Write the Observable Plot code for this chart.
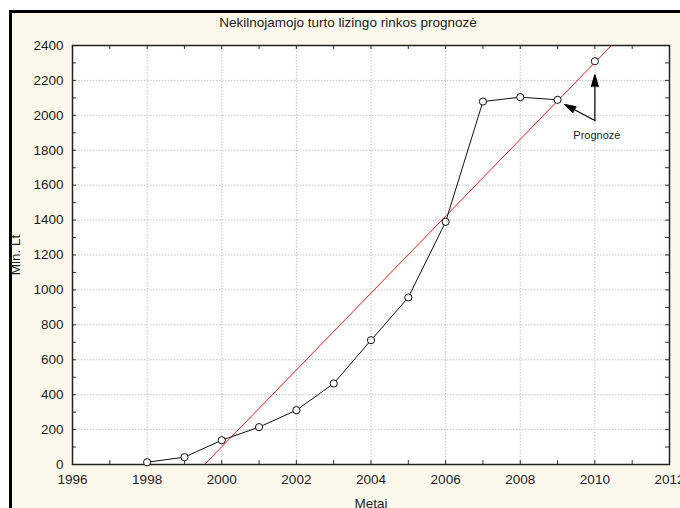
<!DOCTYPE html>
<html>
<head>
<meta charset="utf-8">
<script src="https://cdn.jsdelivr.net/npm/d3@7"></script>
<script src="https://cdn.jsdelivr.net/npm/@observablehq/plot@0.6"></script>
<style>
  html, body { margin: 0; padding: 0; background: #ffffff; }
  #wrap { position: relative; width: 680px; height: 508px; overflow: hidden; }
  #panel {
    position: absolute; left: 9px; top: 10px; right: -4px; bottom: -4px;
    background: #fdf8ec; border-left: 3px solid #000; border-top: 3px solid #000;
  }
  #chart { position: absolute; left: 0; top: 0; }
</style>
</head>
<body>
<div id="wrap"><div id="panel"></div><div id="chart"></div></div>
<script>
// Observed leasing market volume, million litas
const years = [1998, 1999, 2000, 2001, 2002, 2003, 2004, 2005, 2006, 2007, 2008, 2009];
const values = [13, 42, 139, 214, 311, 464, 712, 957, 1390, 2079, 2104, 2089];

// Forecast point
const forecastYears = [2010];
const forecastValues = [2310];

// Linear trend line end points
const trendYears = [1999.54, 2010.44];
const trendValues = [0, 2400];

// Axis ticks
const xTicks = [1996, 1998, 2000, 2002, 2004, 2006, 2008, 2010, 2012];
const xMinorTicks = d3.range(1997, 2012, 1);
const yTicks = [0, 200, 400, 600, 800, 1000, 1200, 1400, 1600, 1800, 2000, 2200, 2400];
const yMinorTicks = d3.range(100, 2400, 100);

// Annotation arrows: start (label) -> end (pointing at forecast / last point)
const arrowFrom = [[2010, 1970], [2010, 1970]];
const arrowTo = [[2010, 2232], [2009.19, 2062]];
const noteLabel = "Prognozė";
const noteAt = [2010, 1884];

const title = "Nekilnojamojo turto lizingo rinkos prognozė";
const xLabel = "Metai";
const yLabel = "Mln. Lt";

const W = 680, H = 508;
const mL = 72, mR = 11, mT = 45, mB = 44;
const innerH = H - mT - mB;
const tickLen = 4;
const fs = 13.5;

const observed = years.map((y, i) => ({year: y, value: values[i]}));
const forecast = forecastYears.map((y, i) => ({year: y, value: forecastValues[i]}));
const trend = trendYears.map((y, i) => ({year: y, value: trendValues[i]}));
const arrows = arrowFrom.map((a, i) => ({x1: a[0], y1: a[1], x2: arrowTo[i][0], y2: arrowTo[i][1]}));

const textColor = "#1c1c24";
const gridStyle = {stroke: "#c4c4c4", strokeOpacity: 1, strokeDasharray: "1.5,1.5", strokeWidth: 1};

const chart = Plot.plot({
  width: W,
  height: H,
  marginLeft: mL,
  marginRight: mR,
  marginTop: mT,
  marginBottom: mB,
  style: {fontFamily: "'Liberation Sans', Arial, sans-serif", fontSize: fs + "px", background: "transparent", color: textColor},
  x: {domain: [1996, 2012], axis: null},
  y: {domain: [0, 2400], axis: null},
  marks: [
    Plot.frame({fill: "white", stroke: null}),
    Plot.gridX(xTicks.slice(1, -1), gridStyle),
    Plot.gridY(yTicks.slice(1, -1), gridStyle),
    // inward ticks on all four sides
    Plot.ruleX(xMinorTicks, {x: d => d, insetTop: innerH - tickLen, stroke: "#333"}),
    Plot.ruleX(xMinorTicks, {x: d => d, insetBottom: innerH - tickLen, stroke: "#333"}),
    Plot.ruleY(yMinorTicks, {y: d => d, insetRight: W - mL - mR - tickLen, stroke: "#333"}),
    Plot.ruleY(yMinorTicks, {y: d => d, insetLeft: W - mL - mR - tickLen, stroke: "#333"}),
    Plot.frame({stroke: "#222", strokeWidth: 1.5}),
    Plot.axisX(xTicks, {tickSize: 0, tickPadding: 10, tickFormat: d => String(d), fill: textColor, fontSize: fs, label: null}),
    Plot.axisY(yTicks, {tickSize: 0, tickPadding: 9, tickFormat: d => String(d), fill: textColor, fontSize: fs, label: null}),
    // trend
    Plot.line(trend, {x: "year", y: "value", stroke: "#ff1a1a", strokeWidth: 1, clip: true}),
    // observed series
    Plot.line(observed, {x: "year", y: "value", stroke: "#111", strokeWidth: 1}),
    Plot.dot(observed.concat(forecast), {x: "year", y: "value", r: 3.6, fill: "white", stroke: "#111", strokeWidth: 1}),
    // annotation
    Plot.arrow(arrows, {x1: "x1", y1: "y1", x2: "x2", y2: "y2", stroke: "#000", strokeWidth: 1.2, headLength: 15, headAngle: 32, className: "note-arrow"}),
    Plot.text([noteLabel], {x: noteAt[0], y: noteAt[1], dx: 2, fontSize: 11, fill: textColor}),
    // titles
    Plot.text([title], {frameAnchor: "top", dx: -23, dy: -23, lineAnchor: "middle", fontSize: fs, fill: textColor}),
    Plot.text([xLabel], {frameAnchor: "bottom", dy: 39, fontSize: fs, fill: textColor, lineAnchor: "middle"}),
    Plot.text([yLabel], {frameAnchor: "left", dx: -57, rotate: -90, textAnchor: "middle", fontSize: fs, fill: textColor})
  ]
});

// Fill the arrowheads: the last three points of each arrow path form the head
d3.select(chart).selectAll(".note-arrow path").each(function () {
  const d = this.getAttribute("d") || "";
  const nums = (d.match(/-?\d*\.?\d+(?:e[-+]?\d+)?/gi) || []).map(Number);
  if (nums.length < 6) return;
  const h = nums.slice(-6);
  d3.select(this.parentNode).append("path")
    .attr("d", `M${h[0]},${h[1]}L${h[2]},${h[3]}L${h[4]},${h[5]}Z`)
    .attr("fill", "#000")
    .attr("stroke", "#000")
    .attr("stroke-width", 0.6);
});

document.getElementById("chart").appendChild(chart);
</script>
</body>
</html>
